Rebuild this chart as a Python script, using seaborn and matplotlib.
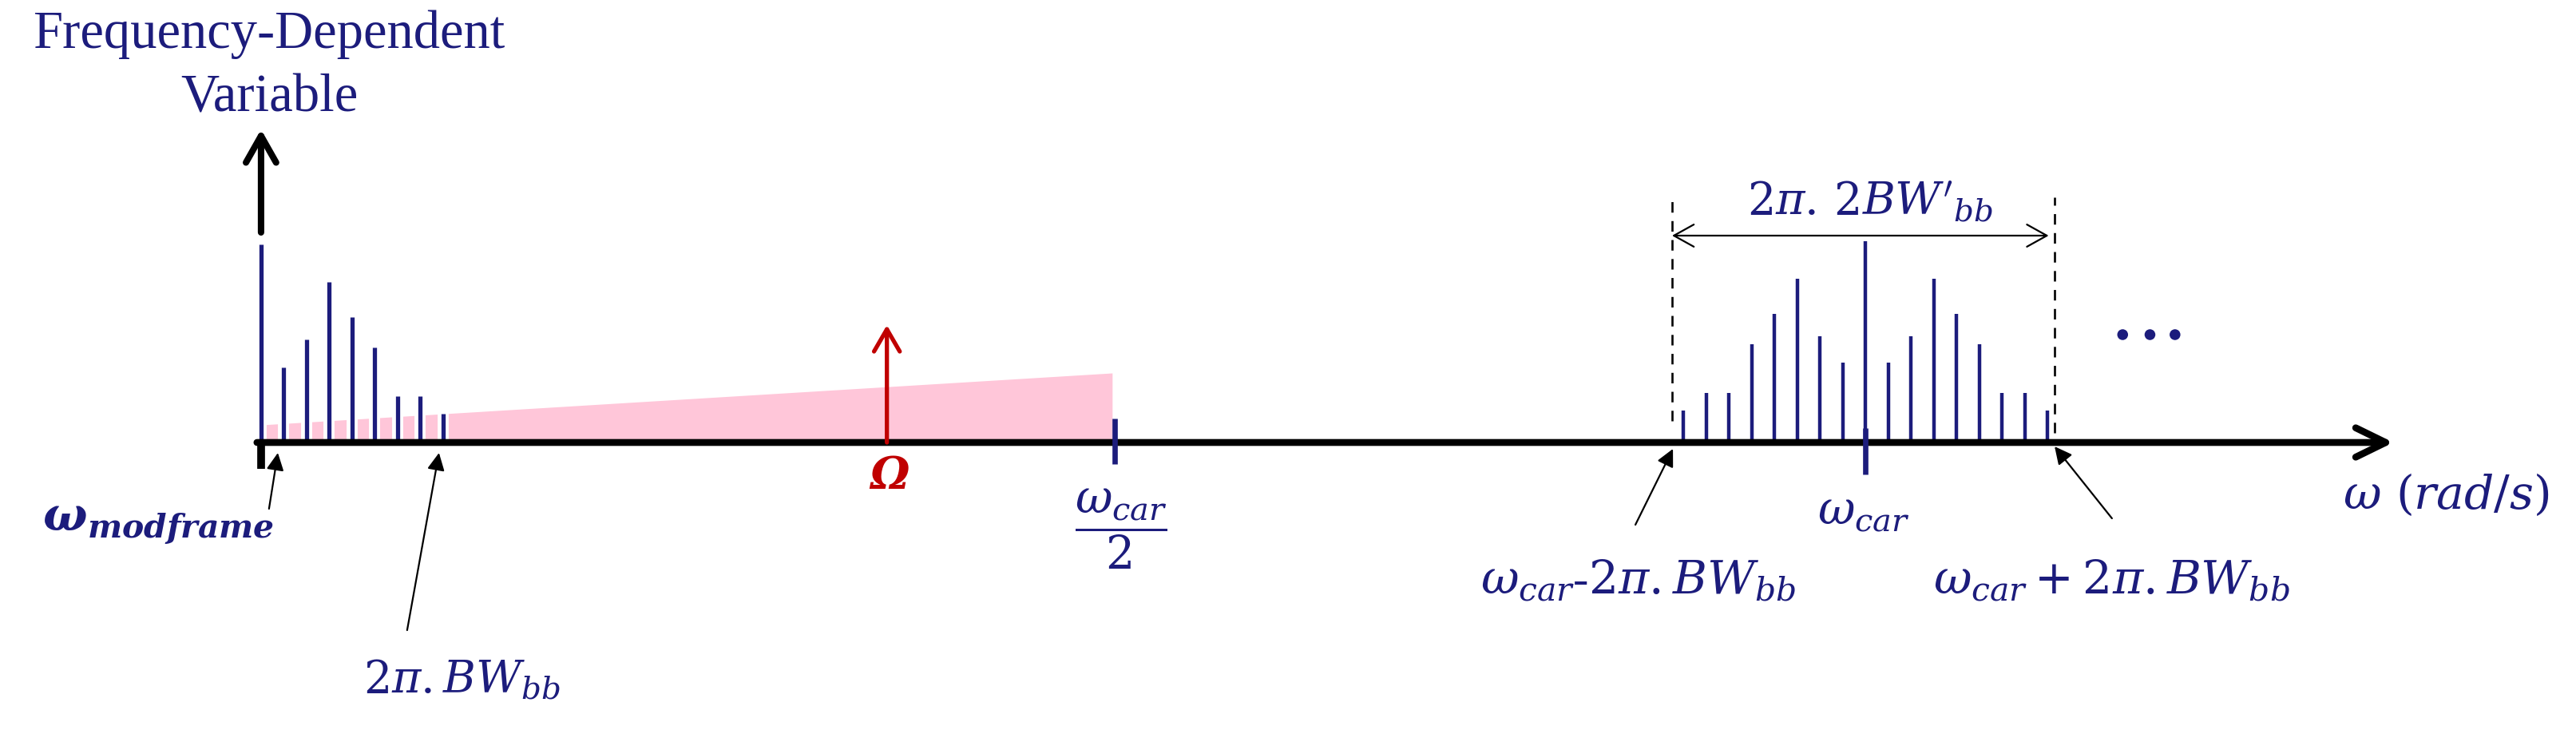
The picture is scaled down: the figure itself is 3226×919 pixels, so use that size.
import matplotlib

matplotlib.use("Agg")
import matplotlib.pyplot as plt
import seaborn as sns

# frequency in units of the baseband line spacing, amplitude in arbitrary units
bb_freq = [0, 1, 2, 3, 4, 5, 6, 7, 8]
bb_amp = [2.48, 0.94, 1.29, 2.01, 1.57, 1.19, 0.58, 0.58, 0.36]

car_freq = 70.5
sb_offset = [-8, -7, -6, -5, -4, -3, -2, -1, 0, 1, 2, 3, 4, 5, 6, 7, 8]
sb_amp = [0.40, 0.62, 0.62, 1.23, 1.61, 2.05, 1.33, 1.00, 2.52,
          1.00, 1.33, 2.05, 1.61, 1.23, 0.62, 0.62, 0.40]

# pink noise floor ramp up to w_car/2
ramp_freq = [0.0, 37.4]
ramp_top = [0.22, 0.87]

omega_freq = 27.5
omega_amp = 1.47
half_car_freq = 37.5

band_edges = [62.0, 78.8]
band_edge_low = [0.27, 0.12]
band_edge_high = [3.07, 3.07]
span_level = 2.59

dots_freq = [81.8, 83.0, 84.1]
dots_level = [1.35, 1.35, 1.35]

axis_end = 93.7
yaxis_span = [2.63, 3.92]

NAVY = "#1c1c7c"
PINK = "#ffc6d9"
RED = "#c00000"

sns.set_theme(style="white")
plt.rcParams["mathtext.fontset"] = "dejavuserif"
plt.rcParams["font.family"] = ["Liberation Serif", "DejaVu Serif"]

fig = plt.figure(figsize=(32.26, 9.2), dpi=100)
ax = fig.add_axes([0, 0, 1, 1])
ax.set_xlim(-11.47, 101.72)
ax.set_ylim(-3.65, 5.55)
ax.axis("off")

# noise ramp with white gaps around the baseband lines
ax.fill_between(ramp_freq, 0, ramp_top, color=PINK, lw=0, zorder=1)
ax.vlines(bb_freq, 0, bb_amp, color="white", lw=10, zorder=2)
ax.vlines(bb_freq, 0, bb_amp, color=NAVY, lw=3.8, zorder=3)

sb_freq = [car_freq + o for o in sb_offset]
ax.vlines(sb_freq, 0, sb_amp, color=NAVY, lw=3.2, zorder=3)

# ticks at w_car/2 and w_car, stub at the origin
ax.vlines([half_car_freq, car_freq], [-0.27, -0.40], [0.30, 0.18],
          color=NAVY, lw=4.8, zorder=5)
ax.vlines(bb_freq[0], -0.33, 0, color="black", lw=7, zorder=4)

# axes arrows
ax.annotate("", xy=(axis_end, 0), xytext=(-0.18, 0), zorder=4,
            arrowprops=dict(arrowstyle="->,head_length=1.35,head_width=0.66",
                            lw=6.2, color="black", shrinkA=0, shrinkB=0,
                            mutation_scale=20))
ax.annotate("", xy=(bb_freq[0], yaxis_span[1]), xytext=(bb_freq[0], yaxis_span[0]),
            zorder=4,
            arrowprops=dict(arrowstyle="->,head_length=1.2,head_width=0.68",
                            lw=5.8, color="black", shrinkA=0, shrinkB=0,
                            mutation_scale=20))

# red tone at Omega
ax.annotate("", xy=(omega_freq, omega_amp), xytext=(omega_freq, 0), zorder=5,
            arrowprops=dict(arrowstyle="->,head_length=1.0,head_width=0.58",
                            lw=3.8, color=RED, shrinkA=0, shrinkB=0,
                            mutation_scale=20))

# band edges and bandwidth span
ax.vlines(band_edges, band_edge_low, band_edge_high, color="black", lw=1.9,
          linestyles=(0, (5, 4)), zorder=3)
ax.annotate("", xy=(band_edges[1] - 0.25, span_level), xytext=(band_edges[0], span_level),
            zorder=4,
            arrowprops=dict(arrowstyle="<->,head_length=0.72,head_width=0.4",
                            lw=1.6, color="black", shrinkA=0, shrinkB=0,
                            mutation_scale=25))

sns.scatterplot(x=dots_freq, y=dots_level, s=95, color=NAVY, edgecolor="none",
                ax=ax, zorder=5)

# pointer arrows from labels to the axis
pointers = [((0.74, -0.13), (0.35, -0.83)),
            ((7.82, -0.13), (6.42, -2.35)),
            ((62.04, -0.08), (60.39, -1.03)),
            ((78.81, -0.05), (81.33, -0.95))]
for tip, tail in pointers:
    ax.annotate("", xy=tip, xytext=tail, zorder=4,
                arrowprops=dict(arrowstyle="-|>,head_length=0.4,head_width=0.2",
                                lw=1.6, color="black", shrinkA=0, shrinkB=0,
                                mutation_scale=33))

# labels
ax.text(0.35, 4.72, "Frequency-Dependent\nVariable", ha="center", va="center",
        fontsize=48, color=NAVY, linespacing=1.38)
ax.text(-4.53, -1.02, r"$\boldsymbol{\omega}_{\boldsymbol{modframe}}$",
        ha="center", va="center", fontsize=42, color=NAVY)
ax.text(8.84, -2.97, r"$2\pi.BW_{bb}$", ha="center", va="center",
        fontsize=40, color=NAVY)
ax.text(omega_freq + 0.1, -0.42, "Ω", ha="center", va="center",
        fontsize=40, color=RED, family="DejaVu Serif", weight="bold", style="italic")
ax.text(half_car_freq + 0.3, -1.07, r"$\dfrac{\omega_{car}}{2}$", ha="center",
        va="center", fontsize=41, color=NAVY)
ax.text(car_freq - 0.1, -0.88, r"$\omega_{car}$", ha="center", va="center",
        fontsize=41, color=NAVY)
ax.text(60.5, -1.72, r"$\omega_{car}$-$2\pi.BW_{bb}$", ha="center", va="center",
        fontsize=42, color=NAVY)
ax.text(81.3, -1.72, r"$\omega_{car}+2\pi.BW_{bb}$", ha="center", va="center",
        fontsize=42, color=NAVY)
ax.text(70.7, 3.02, r"$2\pi.\,2BW'_{bb}$", ha="center", va="center",
        fontsize=40, color=NAVY)
ax.text(96.0, -0.65, r"$\omega\ (rad/s)$", ha="center", va="center",
        fontsize=42, color=NAVY)

fig.savefig("out.png", dpi=100, facecolor="white")
